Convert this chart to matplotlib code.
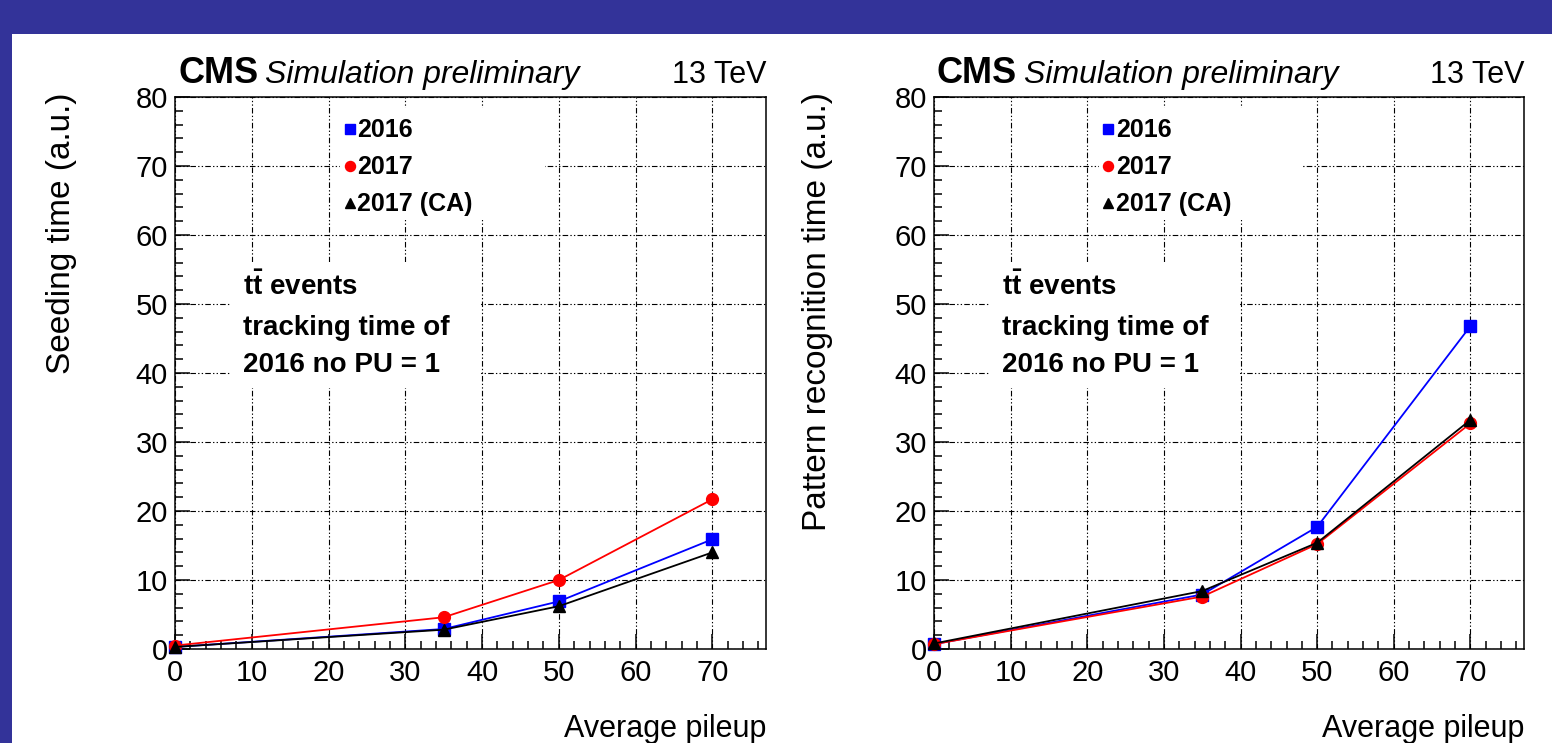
import matplotlib
matplotlib.use("Agg")
import matplotlib.pyplot as plt
from matplotlib.lines import Line2D
from matplotlib.patches import Rectangle
from matplotlib.ticker import MultipleLocator

BG = "#333399"
BLUE = "#0000ff"
RED = "#ff0000"
BLACK = "#000000"
GRID_LS = (0, (5, 2, 1.2, 2, 1.2, 2))

# average pileup points
pileup = [0, 35, 50, 70]

# seeding time (a.u.)
seed_2016 = [0.3, 2.9, 6.9, 15.9]
seed_2017 = [0.5, 4.6, 10.0, 21.7]
seed_2017ca = [0.3, 2.8, 6.2, 14.0]

# pattern recognition time (a.u.)
pr_2016 = [0.7, 7.9, 17.7, 46.8]
pr_2017 = [0.7, 7.6, 15.2, 32.7]
pr_2017ca = [0.8, 8.4, 15.4, 33.2]

labels = ["2016", "2017", "2017 (CA)"]
styles = [("s", BLUE, 8), ("o", RED, 8.5), ("^", BLACK, 8)]

plt.rcParams["font.family"] = ["Liberation Sans", "DejaVu Sans"]
plt.rcParams["mathtext.fontset"] = "custom"
plt.rcParams["mathtext.bf"] = "Liberation Sans:bold"
plt.rcParams["mathtext.rm"] = "Liberation Sans"

fig = plt.figure(figsize=(15.52, 7.43), dpi=100)
fig.patch.set_facecolor(BG)
# white page under the blue frame (drawn before the axes)
fig.patches.append(Rectangle((12 / 1552, 0), 1, 1 - 34 / 743, transform=fig.transFigure,
                             facecolor="white", edgecolor="none", zorder=-10))

panels = [
    ([0.1128, 0.1265, 0.3808, 0.7429], "Seeding time (a.u.)", -0.193,
     [seed_2016, seed_2017, seed_2017ca]),
    ([0.6018, 0.1265, 0.3802, 0.7429], "Pattern recognition time (a.u.)", -0.197,
     [pr_2016, pr_2017, pr_2017ca]),
]

for pos, ylabel, ylab_x, series in panels:
    ax = fig.add_axes(pos)
    ax.set_facecolor("white")
    ax.set_xlim(0, 77)
    ax.set_ylim(0, 80)

    # ROOT-like ticks
    ax.xaxis.set_major_locator(MultipleLocator(10))
    ax.xaxis.set_minor_locator(MultipleLocator(2))
    ax.yaxis.set_major_locator(MultipleLocator(10))
    ax.yaxis.set_minor_locator(MultipleLocator(2))
    ax.tick_params(which="both", direction="in", colors=BLACK, labelsize=21, width=1.1)
    ax.tick_params(which="major", length=11)
    ax.tick_params(which="minor", length=5.5)
    ax.tick_params(axis="x", pad=7)
    ax.tick_params(axis="y", pad=5)
    for s in ax.spines.values():
        s.set_linewidth(1.1)
        s.set_color(BLACK)

    ax.grid(True, which="major", color=BLACK, linewidth=0.8, linestyle=GRID_LS)
    ax.set_axisbelow(True)

    # white boxes behind the legend and the text block
    ax.add_patch(Rectangle((0.279, 0.777), 0.347, 0.203, transform=ax.transAxes,
                           facecolor="white", edgecolor="none", zorder=1))
    ax.add_patch(Rectangle((0.095, 0.473), 0.42, 0.228, transform=ax.transAxes,
                           facecolor="white", edgecolor="none", zorder=1))

    for vals, (mk, col, ms) in zip(series, styles):
        ax.plot(pileup, vals, color=col, linewidth=1.3, marker=mk, markersize=ms,
                markeredgecolor=col, zorder=3, clip_on=False)

    handles = [Line2D([], [], linestyle="none", marker=mk, color=col, markersize=ms * 0.85)
               for mk, col, ms in styles]
    ax.legend(handles, labels, loc="upper left", bbox_to_anchor=(0.27, 0.975),
              frameon=False, prop=dict(weight="bold", size=18), handlelength=0.6,
              handletextpad=0.0, labelspacing=0.52, borderpad=0.3, borderaxespad=0)

    ax.text(0.115, 0.641, r"$\mathbf{t\bar{t}}$ events", transform=ax.transAxes,
            fontsize=20, fontweight="bold", ha="left", va="baseline", zorder=4)
    ax.text(0.115, 0.569, "tracking time of", transform=ax.transAxes,
            fontsize=20, fontweight="bold", ha="left", va="baseline", zorder=4)
    ax.text(0.115, 0.502, "2016 no PU = 1", transform=ax.transAxes,
            fontsize=20, fontweight="bold", ha="left", va="baseline", zorder=4)

    ax.text(0.005, 1.025, "CMS", transform=ax.transAxes, fontsize=26,
            fontweight="bold", ha="left", va="baseline")
    ax.text(0.152, 1.025, "Simulation preliminary", transform=ax.transAxes,
            fontsize=23, fontstyle="italic", ha="left", va="baseline")
    ax.text(1.0, 1.025, "13 TeV", transform=ax.transAxes, fontsize=22,
            ha="right", va="baseline")

    ax.text(ylab_x, 1.009, ylabel, transform=ax.transAxes, fontsize=24,
            rotation=90, ha="center", va="top")
    ax.text(1.0, -0.159, "Average pileup", transform=ax.transAxes, fontsize=22,
            ha="right", va="baseline")

fig.savefig("out.png", dpi=100, facecolor=fig.get_facecolor())
